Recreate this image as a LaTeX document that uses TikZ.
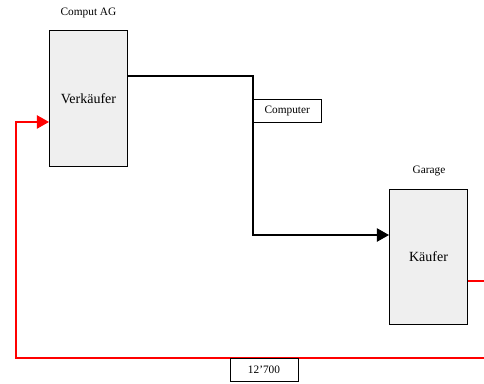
\documentclass[tikz,border=0pt]{standalone}
\usepackage{fontspec}
\setmainfont{Liberation Serif}
\usetikzlibrary{arrows.meta}
\definecolor{boxgray}{HTML}{EFEFEF}

\begin{document}
\begin{tikzpicture}[x=0.75pt,y=-0.75pt,
    party/.style={draw,thick,fill=boxgray,minimum width=58.5pt,minimum height=101.5pt,font=\fontsize{10.5}{12}\selectfont},
    tag/.style={font=\fontsize{8.5}{10}\selectfont},
    flowbox/.style={draw,fill=white,minimum width=51pt,minimum height=17pt,inner sep=0pt,font=\fontsize{8.5}{10}\selectfont},
    flow/.style={thick,-{Triangle[length=9pt,width=10pt]}},
    pay/.style={thick,red,-{Triangle[length=9pt,width=10pt]}}]
        \clip (0,0) rectangle (484,383);

        \node[party] (seller) at (88.5, 98.5) {Verkäufer};
        \node[party] (buyer) at (428.5, 257) {Käufer};
        \node[tag] (sellername) at (88.5, 13) {Comput AG};
        \node[tag] (buyername) at (429, 171) {Garage};

        \coordinate (sellout) at ([yshift=16.9pt]seller.east);
        \coordinate (buyin) at ([yshift=16.5pt]buyer.west);
        \coordinate (payout) at ([yshift=-18pt]buyer.east);
        \coordinate (payin) at ([yshift=-17.6pt]seller.west);
        \coordinate (payturn) at (500, 358);
        \coordinate (paycorner) at (16, 358);

        % goods flow
        \draw[flow] (sellout) -| (253, 110.5) |- (buyin);
        \node[flowbox,anchor=west] (goods) at (253, 110.5) {Computer};

        % money flow
        \draw[pay] (payout) -| (payturn) -- (paycorner) |- (payin);
        \node[flowbox,anchor=north] (price) at (264, 358) {12’700};
    \end{tikzpicture}
\end{document}
